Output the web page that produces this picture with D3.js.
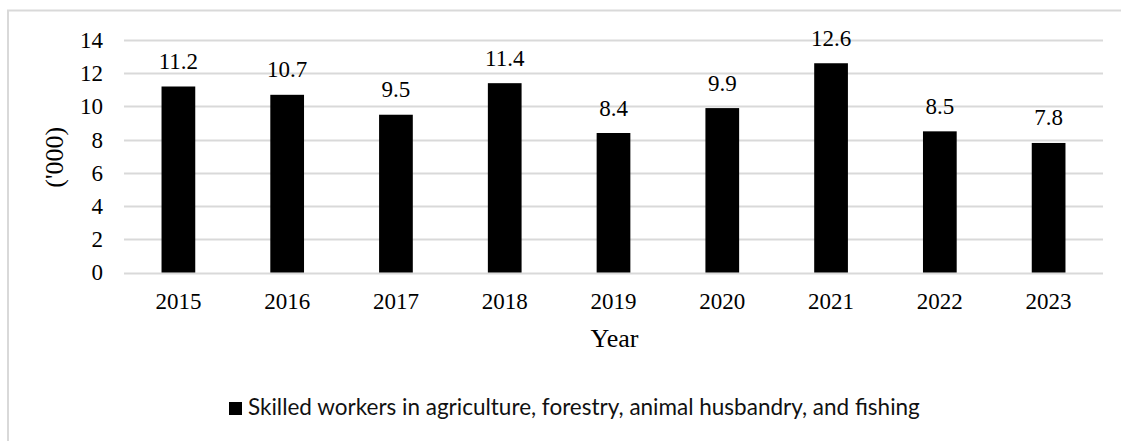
<!DOCTYPE html>
<html>
<head>
<meta charset="utf-8">
<script src="https://cdn.jsdelivr.net/npm/d3@7"></script>
<style>
  html, body { margin: 0; padding: 0; background: #ffffff; }
  svg { display: block; }
</style>
</head>
<body>
<svg id="chart" width="1121" height="441"></svg>
<script>
// Skilled workers in agriculture, forestry, animal husbandry, and fishing ('000)
const years = ["2015", "2016", "2017", "2018", "2019", "2020", "2021", "2022", "2023"];
const workers = [11.2, 10.7, 9.5, 11.4, 8.4, 9.9, 12.6, 8.5, 7.8];
const yTicks = [0, 2, 4, 6, 8, 10, 12, 14];
const seriesName = "Skilled workers in agriculture, forestry, animal husbandry, and fishing";

const W = 1121, H = 441;
const plot = { left: 124, right: 1103, top: 40, bottom: 272.5 };
const serif = "'Liberation Serif', 'Times New Roman', serif";
const labelSize = 23;
const titleSize = 26;

const svg = d3.select("#chart");

// Outer frame (open on the right and bottom)
svg.append("rect")
  .attr("x", 8).attr("y", 10.5)
  .attr("width", W + 20).attr("height", H + 20)
  .attr("fill", "none")
  .attr("stroke", "#d9d9d9")
  .attr("stroke-width", 2);

const x = d3.scaleBand()
  .domain(years)
  .range([plot.left, plot.right])
  .paddingInner(0.69)
  .paddingOuter(0.345);

const y = d3.scaleLinear()
  .domain([0, 14])
  .range([plot.bottom, plot.top]);

// Gridlines
svg.append("g")
  .selectAll("line")
  .data(yTicks)
  .join("line")
  .attr("x1", plot.left).attr("x2", plot.right)
  .attr("y1", d => Math.round(y(d)) + 0.5)
  .attr("y2", d => Math.round(y(d)) + 0.5)
  .attr("stroke", "#d9d9d9")
  .attr("stroke-width", 2);

// Y axis labels
const yAxis = d3.axisLeft(y).tickValues(yTicks).tickSize(0).tickPadding(21);
svg.append("g")
  .attr("transform", `translate(${plot.left},0)`)
  .call(yAxis)
  .call(g => g.select(".domain").remove())
  .call(g => g.selectAll("text")
    .attr("font-family", serif)
    .attr("font-size", labelSize)
    .attr("fill", "#000"));

// X axis labels
const xAxis = d3.axisBottom(x).tickSize(0);
svg.append("g")
  .attr("transform", `translate(0,${plot.bottom})`)
  .call(xAxis)
  .call(g => g.select(".domain").remove())
  .call(g => g.selectAll("text")
    .attr("dy", null)
    .attr("y", 36.5)
    .attr("font-family", serif)
    .attr("font-size", labelSize)
    .attr("fill", "#000"));

// Bars
svg.append("g")
  .selectAll("rect")
  .data(years.map((yr, i) => ({ yr, v: workers[i] })))
  .join("rect")
  .attr("x", d => x(d.yr))
  .attr("y", d => y(d.v))
  .attr("width", x.bandwidth())
  .attr("height", d => y(0) - y(d.v))
  .attr("fill", "#000");

// Value labels
svg.append("g")
  .selectAll("text")
  .data(years.map((yr, i) => ({ yr, v: workers[i] })))
  .join("text")
  .attr("x", d => x(d.yr) + x.bandwidth() / 2)
  .attr("y", d => y(d.v) - 17.5)
  .attr("text-anchor", "middle")
  .attr("font-family", serif)
  .attr("font-size", labelSize)
  .attr("fill", "#000")
  .text(d => d.v.toFixed(1));

// Axis titles
svg.append("text")
  .attr("x", (plot.left + plot.right) / 2 + 1)
  .attr("y", 347)
  .attr("text-anchor", "middle")
  .attr("font-family", serif)
  .attr("font-size", titleSize)
  .attr("fill", "#000")
  .text("Year");

svg.append("text")
  .attr("transform", `translate(63,${(plot.top + plot.bottom) / 2 + 1}) rotate(-90)`)
  .attr("text-anchor", "middle")
  .attr("font-family", serif)
  .attr("font-size", titleSize)
  .attr("fill", "#000")
  .text("('000)");

// Legend
const legend = svg.append("g");
legend.append("rect")
  .attr("x", 229).attr("y", 402)
  .attr("width", 13).attr("height", 13)
  .attr("fill", "#000");
const legendText = legend.append("text")
  .attr("x", 248).attr("y", 415)
  .attr("font-family", "Lato, 'Liberation Sans', sans-serif")
  .attr("font-size", 20)
  .attr("fill", "#111")
  .text(seriesName);
// fit the legend label to its allotted width
const targetW = 672;
const curW = legendText.node().getComputedTextLength();
legendText.attr("font-size", 20 * targetW / curW);
</script>
</body>
</html>
